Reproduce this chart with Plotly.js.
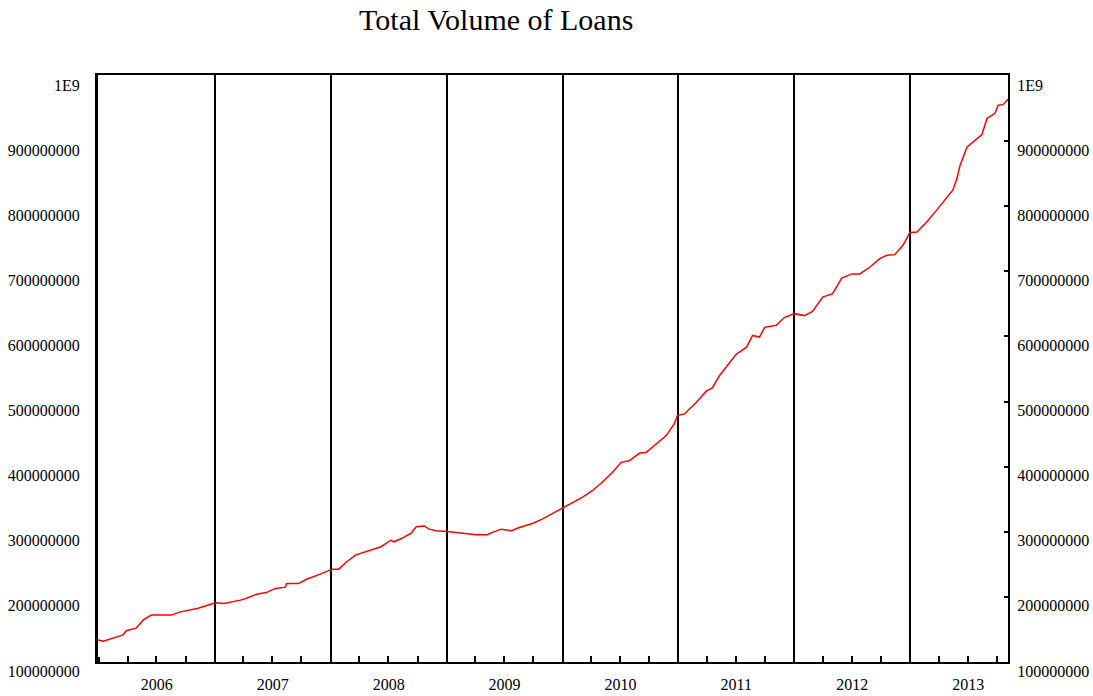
<!DOCTYPE html>
<html>
<head>
<meta charset="utf-8">
<script src="https://cdn.plot.ly/plotly-3.0.1.min.js"></script>
<style>html,body{margin:0;padding:0;background:#fff;}#chart{width:1093px;height:696px;}</style>
</head>
<body>
<div id="chart"></div>
<script>
const chartTitle = "Total Volume of Loans";

const dates = [
 "2005-12-29","2006-01-15","2006-03-18","2006-03-28","2006-04-28","2006-05-21","2006-06-15","2006-08-17",
 "2006-09-15","2006-10-16","2006-11-10","2006-12-21","2007-01-04","2007-01-29","2007-03-23","2007-04-11",
 "2007-05-13","2007-06-13","2007-07-11","2007-08-12","2007-08-15","2007-09-22","2007-10-17","2007-11-30",
 "2008-01-05","2008-01-27","2008-02-18","2008-03-21","2008-05-01","2008-06-08","2008-07-09","2008-07-19",
 "2008-08-13","2008-09-11","2008-09-27","2008-10-22","2008-11-07","2008-11-29","2009-01-03","2009-02-03",
 "2009-04-04","2009-05-09","2009-05-25","2009-06-22","2009-07-24","2009-08-18","2009-09-28","2009-10-29",
 "2009-11-27","2009-12-28","2010-01-22","2010-03-04","2010-04-05","2010-05-06","2010-06-07","2010-07-05",
 "2010-07-30","2010-08-31","2010-09-22","2010-10-24","2010-11-24","2010-12-19","2010-12-29","2011-01-20",
 "2011-02-27","2011-03-30","2011-04-18","2011-05-11","2011-06-05","2011-07-03","2011-08-04","2011-08-23",
 "2011-09-14","2011-09-30","2011-11-06","2011-12-01","2012-01-02","2012-02-03","2012-02-28","2012-03-31",
 "2012-05-01","2012-05-30","2012-07-01","2012-07-26","2012-08-27","2012-09-27","2012-10-19","2012-11-13",
 "2012-12-09","2012-12-31","2013-01-22","2013-02-22","2013-03-25","2013-04-26","2013-05-15","2013-05-28",
 "2013-06-07","2013-06-29","2013-07-18","2013-08-15","2013-08-31","2013-09-25","2013-10-05","2013-10-21",
 "2013-11-05"
];

const loans = [
 134e6,132e6,141.5e6,148e6,152e6,164.6e6,172e6,172e6,
 177e6,180e6,182.6e6,189e6,191e6,190e6,195e6,198e6,
 204e6,206.6e6,213e6,215e6,220.5e6,220.5e6,227e6,235e6,
 242.6e6,242.6e6,252.8e6,264.6e6,270.8e6,277e6,287e6,284.6e6,
 290e6,298e6,307.7e6,309e6,304e6,301.5e6,300.5e6,299e6,
 295.4e6,295.4e6,299e6,304e6,301.5e6,306.6e6,312.8e6,319.5e6,
 327e6,335e6,342.6e6,352.8e6,363e6,376e6,391e6,406.6e6,
 409e6,420.5e6,422e6,435e6,447.7e6,465.6e6,478.5e6,481e6,
 499e6,516e6,521e6,540e6,555e6,573e6,583.5e6,601.5e6,
 599e6,614e6,617e6,629e6,635e6,632e6,638.5e6,660.5e6,
 665.6e6,689.7e6,696e6,696e6,706.6e6,719.5e6,724.6e6,725.6e6,
 740e6,759.5e6,760.5e6,775.8e6,794e6,814e6,824.6e6,842.6e6,
 863e6,891e6,899e6,910e6,935e6,942.6e6,955e6,956e6,
 964.6e6
];

const yTickVals = [1e8,2e8,3e8,4e8,5e8,6e8,7e8,8e8,9e8,1e9];
const yTickText = ["100000000","200000000","300000000","400000000","500000000","600000000","700000000","800000000","900000000","1E9"];

const font = {family: "Liberation Serif, Times New Roman, serif", color: "#000"};
const yRange = [1e8, 1.0015e9];
const xRange = ["2005-12-29", "2013-11-05"];

const traces = [{
  x: dates, y: loans, type: "scatter", mode: "lines",
  line: {color: "#ff0000", width: 1.5}, hoverinfo: "skip", showlegend: false
}];

const layout = {
  width: 1093, height: 696,
  margin: {l: 98, r: 85, t: 75, b: 34},
  paper_bgcolor: "#fff", plot_bgcolor: "#fff",
  showlegend: false,
  title: {text: chartTitle, font: Object.assign({}, font, {size: 30}), x: 0.454, xref: "container", xanchor: "center", y: 0.972, yref: "container", yanchor: "middle"},
  xaxis: {
    type: "date", range: xRange,
    showline: true, linecolor: "#000", linewidth: 2, mirror: true,
    showgrid: true, gridcolor: "#000", gridwidth: 2,
    dtick: "M12", tick0: "2006-01-01", tickformat: "%Y", ticklabelmode: "period",
    ticks: "inside", ticklen: 5, tickcolor: "#000", tickwidth: 2,
    minor: {dtick: "M3", tick0: "2006-01-01", ticks: "inside", ticklen: 6, tickcolor: "#000", tickwidth: 2, showgrid: false},
    tickfont: Object.assign({}, font, {size: 16}),
    ticklabelstandoff: 7,
    zeroline: false, fixedrange: true
  },
  yaxis: {
    range: yRange, tickvals: yTickVals, ticktext: yTickText,
    showline: true, linecolor: "#000", linewidth: 3,
    showgrid: false, zeroline: false, ticks: "",
    tickfont: Object.assign({}, font, {size: 16}),
    ticklabelshift: 9, ticklabelstandoff: 12, fixedrange: true
  },
  yaxis2: {
    range: yRange, tickvals: yTickVals, ticktext: yTickText,
    overlaying: "y", side: "right", anchor: "x",
    showline: true, linecolor: "#000", linewidth: 2,
    showgrid: false, zeroline: false, ticks: "inside", ticklen: 4, tickwidth: 2, tickcolor: "#000",
    tickfont: Object.assign({}, font, {size: 16}),
    ticklabelshift: 9, ticklabelstandoff: 4, fixedrange: true
  }
};

traces.push({x: [dates[0]], y: [loans[0]], yaxis: "y2", type: "scatter", mode: "markers", marker: {opacity: 0}, hoverinfo: "skip", showlegend: false});

Plotly.newPlot("chart", traces, layout, {displayModeBar: false, staticPlot: true});
</script>
</body>
</html>
